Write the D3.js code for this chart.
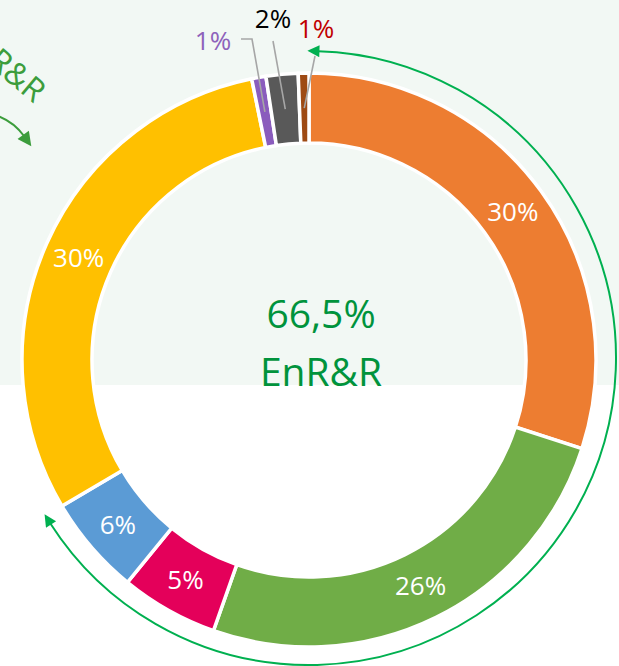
<!doctype html>
<html>
  <head>
    <script src="https://cdnjs.cloudflare.com/ajax/libs/d3/7.8.5/d3.min.js" type="text/JavaScript"></script>
    <style>
      body { margin: 0; background: #fff; }
      svg text { font-family: "Open Sans", "Noto Sans", sans-serif; }
    </style>
  </head>
  <body>
    <svg style="height: 666px; width: 619px;"></svg>
    <script>

      // shares of each source, clockwise from the top
      var sources = ["orange", "green", "magenta", "blue", "yellow", "purple", "gray", "brown"];
      var shares = [30, 25.4, 5.5, 5.6, 30.3, 0.8, 1.8, 0.6];
      var labels = ["30%", "26%", "5%", "6%", "30%", "1%", "2%", "1%"];
      var colors = ["#ed7d31", "#70ad47", "#e4005a", "#5b9bd5", "#ffc000", "#8a5cbd", "#595959", "#9e4a14"];
      var labelColors = ["#fff", "#fff", "#fff", "#fff", "#fff", "#8e62bb", "#000", "#c00000"];
      var centreLines = ["66,5%", "EnR&R"];

      var width = 619, height = 666;
      var cx = 309, cy = 360;
      var outer = 287, inner = 217;

      var svg = d3.select("svg");

      // light band behind the upper part
      svg.append("rect")
        .attr("x", 0).attr("y", 0)
        .attr("width", width).attr("height", 385)
        .style("fill", "#f2f8f4");

      var defs = svg.append("defs");
      defs.append("marker")
          .attr("id", "head")
          .attr("viewBox", "0 0 10 10")
          .attr("refX", 1).attr("refY", 5)
          .attr("markerUnits", "userSpaceOnUse")
          .attr("markerWidth", 15).attr("markerHeight", 12)
          .attr("orient", "auto-start-reverse")
        .append("path")
          .attr("d", "M0,0L10,5L0,10Z")
          .style("fill", "#00b050");
      defs.append("marker")
          .attr("id", "head2")
          .attr("viewBox", "0 0 10 10")
          .attr("refX", 1).attr("refY", 5)
          .attr("markerUnits", "userSpaceOnUse")
          .attr("markerWidth", 16).attr("markerHeight", 14)
          .attr("orient", "auto")
        .append("path")
          .attr("d", "M0,0L10,5L0,10Z")
          .style("fill", "#3c9d3c");

      var pie = d3.pie().sort(null).startAngle(0).endAngle(2 * Math.PI);
      var arcs = pie(shares);

      var arc = d3.arc().innerRadius(inner).outerRadius(outer);
      var mid = d3.arc().innerRadius(252).outerRadius(252);

      var g = svg.append("g").attr("transform", "translate(" + cx + "," + cy + ")");

      g.selectAll("path.slice").data(arcs)
        .enter()
        .append("path")
          .attr("class", "slice")
          .attr("d", arc)
          .style("fill", (d, i) => colors[i])
          .style("stroke", "#fff")
          .style("stroke-width", 3.5)
          .style("stroke-linejoin", "miter");

      // labels inside the ring for the big slices
      g.selectAll("text.in").data(arcs.filter(d => d.value >= 5))
        .enter()
        .append("text")
          .attr("class", "in")
          .attr("x", d => mid.centroid(d)[0])
          .attr("y", d => mid.centroid(d)[1])
          .attr("dy", "0.36em")
          .attr("text-anchor", "middle")
          .style("font-size", "26px")
          .style("fill", d => labelColors[d.index])
          .text(d => labels[d.index]);

      // small slices: labels above the ring with leader lines
      var outside = [
        {i: 5, tx: 213, ty: 50, path: [[241, 39], [252, 39]]},
        {i: 6, tx: 273, ty: 28, path: [[273, 41]]},
        {i: 7, tx: 316, ty: 38, path: [[315, 56]]}
      ];
      outside.forEach(function(o) {
        var c = mid.centroid(arcs[o.i]);
        var pts = o.path.concat([[c[0] + cx, c[1] + cy]]);
        svg.append("path")
          .attr("d", d3.line()(pts))
          .style("fill", "none")
          .style("stroke", "#a6a6a6")
          .style("stroke-width", 1.6);
        svg.append("text")
          .attr("x", o.tx).attr("y", o.ty)
          .attr("text-anchor", "middle")
          .style("font-size", "26px")
          .style("fill", labelColors[o.i])
          .text(labels[o.i]);
      });

      // centre text
      g.selectAll("text.centre").data(centreLines)
        .enter()
        .append("text")
          .attr("class", "centre")
          .attr("x", 12)
          .attr("y", (d, i) => -32 + i * 58)
          .attr("text-anchor", "middle")
          .style("font-size", "39px")
          .style("fill", "#00933c")
          .text(d => d);

      // green bracket arc round the EnR&R share
      var enrEnd = d3.sum(shares.slice(0, 4)) / 100 * 2 * Math.PI;
      var p = d3.path();
      var r = 307;
      p.arc(cx, cy - 2, r, -Math.PI / 2 + 0.03, -Math.PI / 2 + enrEnd - 0.035);
      svg.append("path")
        .attr("d", p.toString())
        .style("fill", "none")
        .style("stroke", "#00b050")
        .style("stroke-width", 2)
        .attr("marker-start", "url(#head)")
        .attr("marker-end", "url(#head)");

      // cut-off label and arrow from the neighbouring chart
      svg.append("text")
        .attr("transform", "translate(34,104) rotate(40)")
        .attr("text-anchor", "end")
        .style("font-size", "32px")
        .style("fill", "#3c9d3c")
        .text("EnR&R");
      svg.append("path")
        .attr("d", "M-2,116Q14,122 24,136")
        .style("fill", "none")
        .style("stroke", "#3c9d3c")
        .style("stroke-width", 2)
        .attr("marker-end", "url(#head2)");

    </script>
  </body>
</html>
